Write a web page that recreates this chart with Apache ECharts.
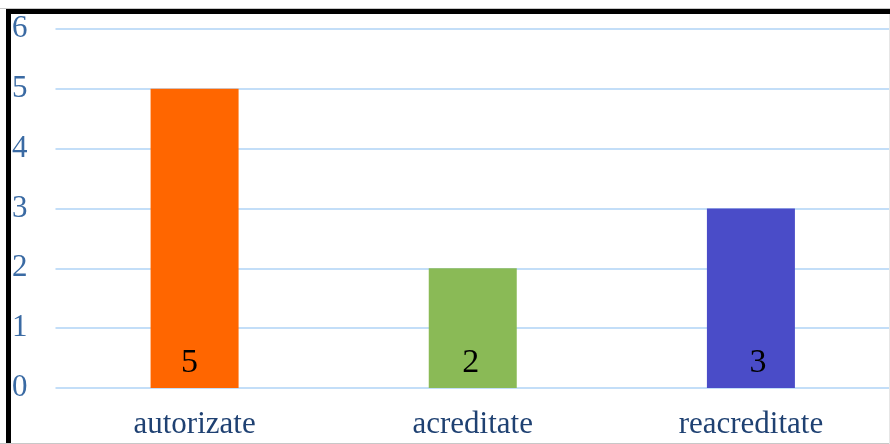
<!DOCTYPE html>
<html><head><meta charset="utf-8">
<script src="https://cdn.jsdelivr.net/npm/echarts@6/dist/echarts.min.js"></script>
<style>html,body{margin:0;padding:0;background:#fff}#c{width:890px;height:444px}</style>
</head><body><div id="c"></div>
<script>
const categories = ['autorizate', 'acreditate', 'reacreditate'];
const values = [5, 2, 3];
const barColors = ['#ff6600', '#8aba56', '#4a4cc8'];
const labelShift = [-5, -2, 7];
const yTicks = [0, 1, 2, 3, 4, 5, 6];

const chart = echarts.init(document.getElementById('c'));
chart.setOption({
  animation: false,
  grid: { left: 55.5, right: -2.5, top: 29, bottom: 56, containLabel: false },
  xAxis: {
    type: 'category', data: categories,
    axisLine: { show: false }, axisTick: { show: false },
    axisLabel: { color: '#1f4172', fontFamily: 'Liberation Serif', fontSize: 31, margin: 21 }
  },
  yAxis: {
    type: 'value', min: yTicks[0], max: yTicks[yTicks.length - 1], interval: 1,
    axisLine: { show: false }, axisTick: { show: false },
    splitLine: { lineStyle: { color: '#c3def8', width: 2 } },
    axisLabel: { color: '#3a6aa3', fontFamily: 'Liberation Serif', fontSize: 31, align: 'left', margin: 43.5 }
  },
  series: [{
    type: 'bar', barWidth: 88,
    data: values.map((v, i) => ({ value: v, itemStyle: { color: barColors[i] }, label: { offset: [labelShift[i], 0] } })),
    label: { show: true, position: 'insideBottom', distance: 8, color: '#000', fontFamily: 'Liberation Serif', fontSize: 34 }
  }],
  graphic: [
    { type: 'rect', shape: { x: 8.5, y: 11.5, width: 900, height: 450 }, style: { fill: null, stroke: '#000', lineWidth: 5 }, z: 100 },
    { type: 'line', shape: { x1: 0, y1: 8.5, x2: 890, y2: 8.5 }, style: { stroke: '#c8c8c8', lineWidth: 1 }, z: 100 },
    { type: 'line', shape: { x1: 0, y1: 443.5, x2: 890, y2: 443.5 }, style: { stroke: '#c8c8c8', lineWidth: 1 }, z: 100 },
    { type: 'line', shape: { x1: 889.5, y1: 14, x2: 889.5, y2: 444 }, style: { stroke: '#e6e6e6', lineWidth: 1 }, z: 100 }
  ]
});
</script></body></html>
